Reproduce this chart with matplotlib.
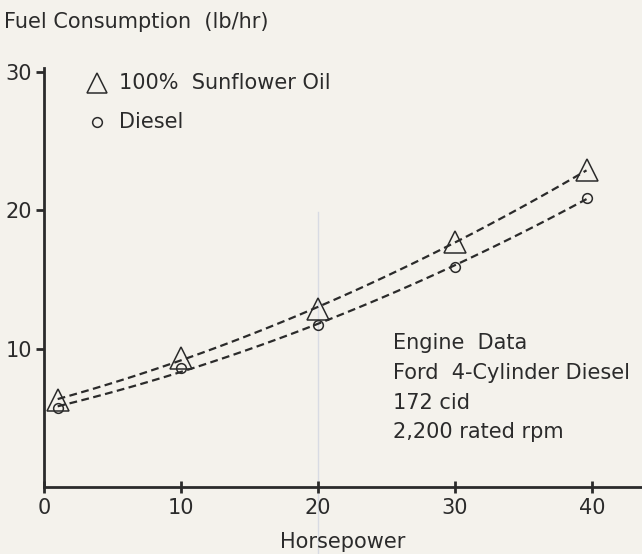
import numpy as np
import matplotlib
matplotlib.use("Agg")
import matplotlib.pyplot as plt

plt.rcParams["font.family"] = ["DejaVu Sans"]

# values
horsepower = [1, 10, 20, 30, 39.6]
sunflower = [6.3, 9.3, 12.9, 17.7, 22.9]
diesel = [5.7, 8.6, 11.7, 15.9, 20.9]
x_ticks = [0, 10, 20, 30, 40]
y_ticks = [10, 20, 30]
engine_lines = ["Engine  Data", "Ford  4-Cylinder Diesel", "172 cid", "2,200 rated rpm"]

paper = "#f4f2ec"
ink = "#2b2b2b"
fs = 15

fig = plt.figure(figsize=(6.42, 5.54), dpi=100, facecolor=paper)
ax = fig.add_axes([0.0685, 0.121, 0.9315, 0.749])
ax.set_facecolor(paper)

# smooth fitted curves through the measured points
xs = np.linspace(horsepower[0], horsepower[-1], 100)
for ys in (sunflower, diesel):
    coef = np.polyfit(horsepower, ys, 2)
    ax.plot(xs, np.polyval(coef, xs), color=ink, lw=1.6, ls=(0, (3.5, 2)))

ax.plot(horsepower, sunflower, ls="none", marker="^", ms=16.5, mfc="none",
        mec=ink, mew=1.1)
ax.plot(horsepower, diesel, ls="none", marker="o", ms=7, mfc="none",
        mec=ink, mew=1.1)

# faint fold line from the scan
ax.plot([20, 20], [-5, 19.9], color="#d8dbe3", lw=1, zorder=0, clip_on=False)

ax.set_xlim(0, 43.65)
ax.set_ylim(0, 30)
for s in ("top", "right"):
    ax.spines[s].set_visible(False)
ax.spines["left"].set_bounds(0, 30.3)
for s in ("left", "bottom"):
    ax.spines[s].set_linewidth(2)
    ax.spines[s].set_color(ink)

ax.set_xticks(x_ticks)
ax.set_yticks(y_ticks)
ax.tick_params(axis="x", direction="inout", length=8, width=2, color=ink,
               labelsize=fs, labelcolor=ink, pad=4)
ax.tick_params(axis="y", direction="out", length=6, width=2, color=ink,
               labelsize=fs, labelcolor=ink, pad=2.5)

fig.text(0.006, 0.96, "Fuel Consumption  (lb/hr)", fontsize=fs, color=ink,
         va="center")
ax.set_xlabel("Horsepower", fontsize=fs, color=ink, labelpad=10)

# legend drawn by hand to match the original
ax.plot([3.9], [29.2], ls="none", marker="^", ms=14, mfc="none", mec=ink,
        mew=1.1, clip_on=False)
ax.text(5.5, 29.2, "100%  Sunflower Oil", fontsize=fs, color=ink, va="center")
ax.plot([3.9], [26.4], ls="none", marker="o", ms=7, mfc="none", mec=ink,
        mew=1.1, clip_on=False)
ax.text(5.5, 26.4, "Diesel", fontsize=fs, color=ink, va="center")

for i, line in enumerate(engine_lines):
    ax.text(25.5, 10.4 - i * 2.15, line, fontsize=fs, color=ink, va="center")

fig.savefig("out.png", dpi=100, facecolor=paper)
